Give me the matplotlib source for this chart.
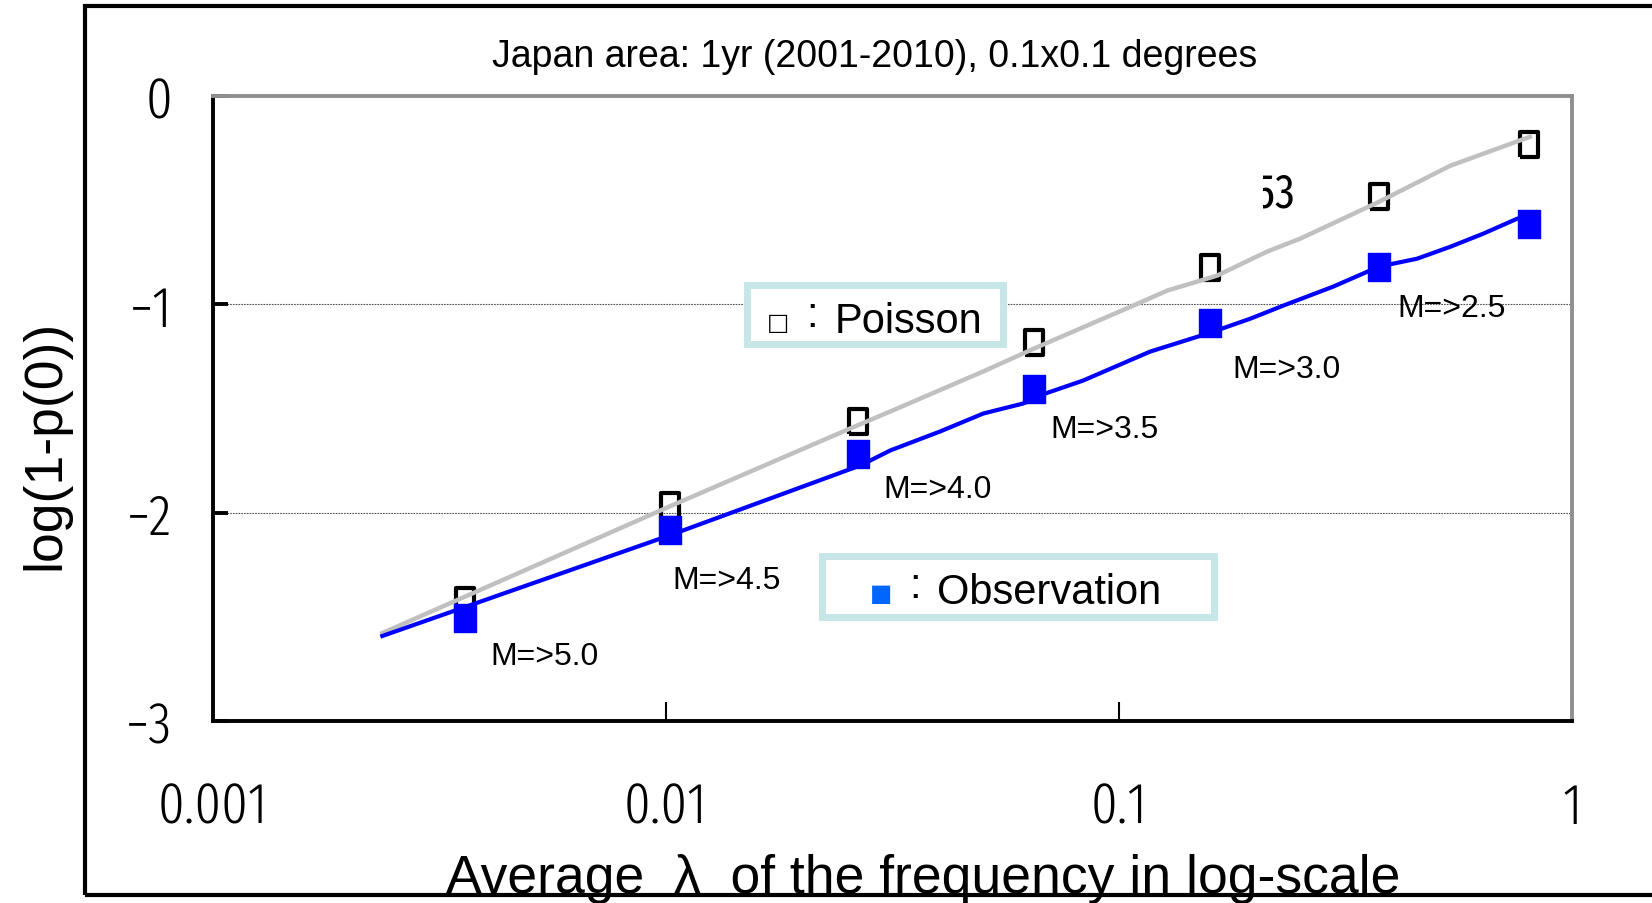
import os
import matplotlib
matplotlib.use("Agg")
import matplotlib.pyplot as plt
from matplotlib import font_manager as fm
from matplotlib.font_manager import FontProperties
from matplotlib.patches import Rectangle
from matplotlib.ticker import NullLocator
from matplotlib.transforms import Bbox

# ---- data -------------------------------------------------------------
# average frequency (lambda) of each magnitude class
lam_points = [0.00361, 0.01024, 0.0266, 0.0650, 0.159, 0.375, 0.804]
# log10(1 - p(0)) expected from a Poisson law
poisson_pts = [-2.420, -1.965, -1.562, -1.179, -0.819, -0.479, -0.230]
# log10(1 - p(0)) observed
observed_pts = [-2.506, -2.084, -1.720, -1.404, -1.088, -0.819, -0.613]
mag_labels = ["M=>5.0", "M=>4.5", "M=>4.0", "M=>3.5", "M=>3.0", "M=>2.5"]

# continuous curves through all thresholds
poisson_curve_lam = [0.00237, 0.01023, 0.02553, 0.03133, 0.05023, 0.06501,
                     0.1076, 0.1279, 0.1648, 0.2123, 0.2512, 0.3750,
                     0.5383, 0.8072]
poisson_curve_val = [-2.578, -1.969, -1.596, -1.514, -1.322, -1.212,
                     -1.006, -0.934, -0.862, -0.747, -0.685, -0.508,
                     -0.335, -0.196]
obs_curve_lam = [0.00237, 0.01023, 0.02692, 0.03133, 0.04036, 0.05023,
                 0.06152, 0.06887, 0.08337, 0.1172, 0.1592, 0.1950,
                 0.2307, 0.2972, 0.3750, 0.4550, 0.5383, 0.6368,
                 0.7568, 0.7998]
obs_curve_val = [-2.592, -2.108, -1.773, -1.701, -1.610, -1.524,
                 -1.476, -1.428, -1.366, -1.227, -1.136, -1.069,
                 -1.006, -0.915, -0.819, -0.781, -0.724, -0.661,
                 -0.589, -0.575]

x_ticks = [0.001, 0.01, 0.1, 1]
x_tick_labels = ["0.001", "0.01", "0.1", "1"]
y_ticks = [0, -1, -2, -3]
y_tick_labels = ["0", "\u22121", "\u22122", "\u22123"]
grid_levels = [-1, -2]

title = "Japan area: 1yr (2001-2010), 0.1x0.1 degrees"
x_label = "Average  \u03bb  of the frequency in log-scale"
y_label = "log(1-p(0))"

# ---- fonts --------------------------------------------------------------
SANS = "Liberation Sans"
NARROW_LIGHT = ["FiraSansExtraCondensed-Light.ttf",
                "FiraSansExtraCondensed-Regular.ttf",
                "BarlowCondensed-Regular.ttf",
                "LiberationSansNarrow-Regular.ttf"]
NARROW_REGULAR = ["FiraSansExtraCondensed-Regular.ttf",
                  "BarlowCondensed-Regular.ttf",
                  "LiberationSansNarrow-Regular.ttf"]
_by_file = {os.path.basename(f.fname): f.fname for f in fm.fontManager.ttflist}


def find_narrow_font(preferred):
    """Return the file of a narrow upright sans face, or None."""
    for name in preferred:
        if name in _by_file:
            return _by_file[name]
    for f in fm.fontManager.ttflist:
        key = (os.path.basename(f.fname) + " " + f.name).lower().replace("-", "").replace(" ", "")
        if f.style == "normal" and ("condensed" in key or "narrow" in key) \
                and not any(w in key for w in ("bold", "italic", "mono", "serif", "thin")):
            return f.fname
    return None


light_file = find_narrow_font(NARROW_LIGHT)
regular_file = find_narrow_font(NARROW_REGULAR)


def narrow_font(path, size_narrow, size_plain):
    if path is not None:
        return FontProperties(fname=path, size=size_narrow)
    return FontProperties(family=SANS, size=size_plain)


# ---- layout helpers ---------------------------------------------------
W, H = 1652, 904
fig = plt.figure(figsize=(W / 100, H / 100), dpi=100)


def fx(px):
    return px / W


def fy(py):
    return 1 - py / H


# outer frame around the whole figure
fig.add_artist(Rectangle((fx(85), fy(896)), fx(1720) - fx(85), fy(7) - fy(896),
                         transform=fig.transFigure, fill=False,
                         ec="black", lw=3.0, zorder=0))

ax = fig.add_axes([fx(212.5), fy(722), fx(1572) - fx(212.5), fy(97) - fy(722)])
ax.set_xscale("log")
ax.set_xlim(0.001, 1)
ax.set_ylim(-3, 0)

ax.set_xticks(x_ticks)
ax.set_xticklabels(x_tick_labels)
ax.xaxis.set_minor_locator(NullLocator())
ax.set_yticks(y_ticks)
ax.set_yticklabels(y_tick_labels)
ax.tick_params(axis="x", direction="in", length=13.5, width=1.5, pad=42,
               color="black")
ax.tick_params(axis="y", direction="in", length=10.5, width=2.8, pad=29,
               color="black")
for lbl in ax.get_xticklabels() + ax.get_yticklabels():
    lbl.set_fontproperties(narrow_font(light_file, 41, 31))

for side in ("left", "bottom"):
    ax.spines[side].set_color("black")
    ax.spines[side].set_linewidth(2.8)
for side in ("top", "right"):
    ax.spines[side].set_color("#8f8f8f")
    ax.spines[side].set_linewidth(2.8)

for lvl in grid_levels:
    ax.axhline(lvl, color="#505050", lw=0.8, ls=(0, (1.5, 1.0)), zorder=1)

# rectangular (slightly tall) markers
rect_p = [(-0.36, -0.5), (0.36, -0.5), (0.36, 0.5), (-0.36, 0.5), (-0.36, -0.5)]
rect_o = [(-0.4, -0.5), (0.4, -0.5), (0.4, 0.5), (-0.4, 0.5), (-0.4, -0.5)]

ax.plot(lam_points, poisson_pts, ls="none", marker=rect_p, ms=18.0,
        mfc="none", mec="black", mew=3.0, zorder=3)
ax.plot(poisson_curve_lam, poisson_curve_val, color="#c0c0c0", lw=3.2,
        zorder=4, solid_joinstyle="round")
ax.plot(obs_curve_lam, obs_curve_val, color="#0000ff", lw=3.0, zorder=5,
        solid_joinstyle="round")
ax.plot(lam_points, observed_pts, ls="none", marker=rect_o, ms=19.6,
        mfc="#0000ff", mec="#0000ff", mew=1.0, zorder=6)

# magnitude labels beside the observed markers (offsets in points)
label_offsets = [(18, -27), (1.5, -36), (18, -25), (11.5, -29.5), (16, -33), (13.5, -30)]
for lab, lam, val, off in zip(mag_labels, lam_points, observed_pts, label_offsets):
    ax.annotate(lab, xy=(lam, val), xytext=off, textcoords="offset points",
                ha="left", va="center", fontsize=23, family=SANS, zorder=7)

ax.xaxis.set_label_text(x_label, fontsize=38.5, family=SANS, va="baseline")
ax.xaxis.set_label_coords((923 - 212.5) / 1359.5, (722 - 893) / 625)
ax.yaxis.set_label_text(y_label, fontsize=38.5, family=SANS, va="center")
ax.yaxis.set_label_coords((45 - 212.5) / 1359.5, (722 - 445) / 625)

fig.text(fx(875), fy(57), title, ha="center", va="center",
         fontsize=27, family=SANS)

# partly hidden number in the upper area
t53 = fig.text(fx(1294), fy(207), "53", ha="right", va="baseline",
               fontproperties=narrow_font(regular_file, 34, 31))
t53.set_clip_box(Bbox.from_extents(1263, 0, W, H))
t53.set_clip_on(True)

# legend boxes
box_edge = "#c6e6e8"
fig.add_artist(Rectangle((fx(747), fy(345)), fx(1003) - fx(747), fy(286) - fy(345),
                         transform=fig.transFigure, fc="white", ec=box_edge,
                         lw=5.0, zorder=5))
fig.add_artist(Rectangle((fx(822), fy(618)), fx(1214) - fx(822), fy(557) - fy(618),
                         transform=fig.transFigure, fc="white", ec=box_edge,
                         lw=5.0, zorder=5))

fig.text(fx(778.5), fy(323), "\u25a1", ha="center", va="center", fontsize=17,
         family="DejaVu Sans", zorder=6)
fig.text(fx(812), fy(327), ":", ha="center", va="baseline", fontsize=30,
         family=SANS, zorder=6)
fig.text(fx(835), fy(333), "Poisson", ha="left", va="baseline", fontsize=30,
         family=SANS, zorder=6)

fig.text(fx(881), fy(594.5), "\u25a0", ha="center", va="center", fontsize=17,
         family="DejaVu Sans", color="#0066ff", zorder=6)
fig.text(fx(915), fy(598), ":", ha="center", va="baseline", fontsize=30,
         family=SANS, zorder=6)
fig.text(fx(937), fy(604), "Observation", ha="left", va="baseline", fontsize=30,
         family=SANS, zorder=6)

fig.savefig("out.png", dpi=100, facecolor="white")
